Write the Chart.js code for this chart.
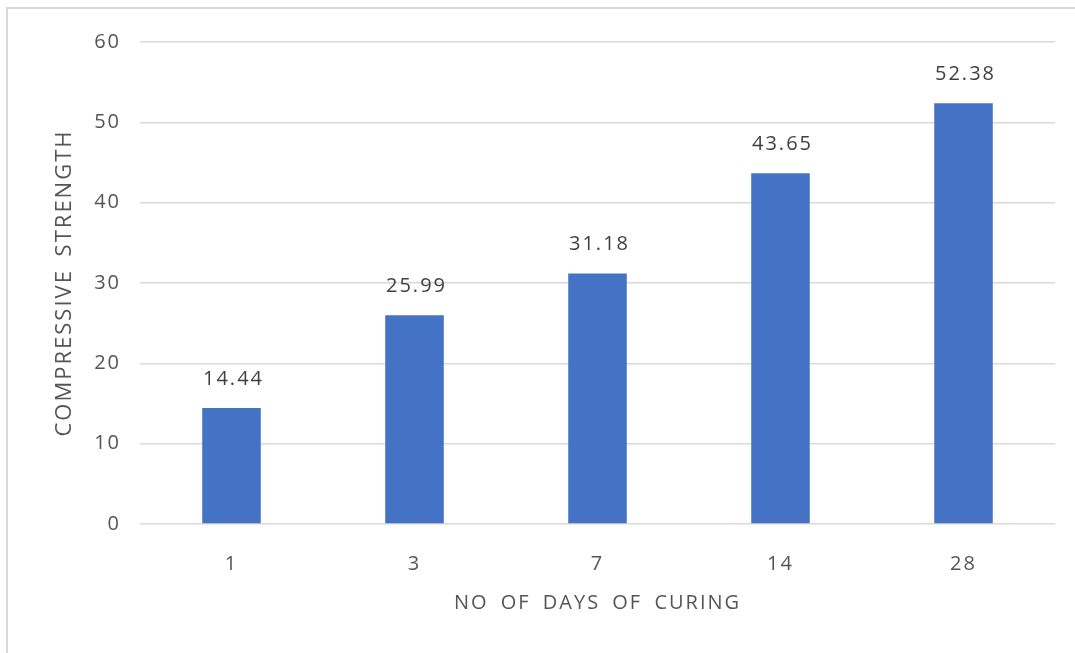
<!DOCTYPE html>
<html>
<head>
<meta charset="utf-8">
<script src="https://cdn.jsdelivr.net/npm/chart.js@4"></script>
<style>
  html, body { margin: 0; padding: 0; background: #fff; }
  #wrap { position: relative; width: 1075px; height: 653px; overflow: hidden; }
  #frame {
    position: absolute; left: 6px; top: 7px; width: 1080px; height: 660px;
    border-left: 2px solid #d9d9d9; border-top: 2px solid #d9d9d9;
    pointer-events: none;
  }
  #chart { position: absolute; left: 0; top: 0; }
</style>
</head>
<body>
<div id="wrap">
  <canvas id="chart" width="1075" height="653"></canvas>
  <div id="frame"></div>
</div>
<script>
const days = ['1', '3', '7', '14', '28'];
const strength = [14.44, 25.99, 31.18, 43.65, 52.38];
const yTicks = [0, 10, 20, 30, 40, 50, 60];

const TEXT = '#555555';
const FONT = { family: "'Open Sans', sans-serif", size: 20 };

// Excel-style spaced text
const spacing = {
  id: 'spacing',
  beforeLayout(chart) { chart.ctx.letterSpacing = '2px'; chart.ctx.wordSpacing = '5px'; },
  beforeDraw(chart) { chart.ctx.letterSpacing = '2px'; chart.ctx.wordSpacing = '5px'; }
};

// value printed over each bar
const barLabels = {
  id: 'barLabels',
  afterDatasetsDraw(chart) {
    const ctx = chart.ctx;
    const meta = chart.getDatasetMeta(0);
    ctx.save();
    ctx.font = "20px 'Open Sans', sans-serif";
    ctx.fillStyle = '#404040';
    ctx.textAlign = 'center';
    ctx.textBaseline = 'middle';
    meta.data.forEach((bar, i) => {
      ctx.fillText(strength[i].toFixed(2), bar.x + 2, bar.y - 29);
    });
    ctx.restore();
  }
};

new Chart(document.getElementById('chart'), {
  type: 'bar',
  data: {
    labels: days,
    datasets: [{
      data: strength,
      backgroundColor: '#4472C4',
      barPercentage: 0.32,
      categoryPercentage: 1
    }]
  },
  options: {
    responsive: false,
    animation: false,
    layout: { padding: { top: 42, right: 20, left: 0, bottom: 0 } },
    plugins: { legend: { display: false }, tooltip: { enabled: false } },
    scales: {
      x: {
        grid: { display: false },
        border: { display: false },
        ticks: { color: TEXT, font: FONT, padding: 20 },
        title: {
          display: true, text: 'NO OF DAYS OF CURING', color: TEXT, font: FONT,
          padding: { top: 0, bottom: 38 }
        },
        afterFit(scale) { scale.height = 129; }
      },
      y: {
        min: 0, max: 60,
        afterBuildTicks(scale) { scale.ticks = yTicks.map(v => ({ value: v })); },
        grid: { color: '#d9d9d9', lineWidth: 1.5, drawTicks: false },
        border: { display: false },
        ticks: { color: TEXT, font: FONT, padding: 19 },
        title: {
          display: true, text: 'COMPRESSIVE STRENGTH', color: TEXT,
          font: { family: FONT.family, size: 22 },
          padding: { top: 52, bottom: 0 }
        },
        afterFit(scale) { scale.width = 140; }
      }
    }
  },
  plugins: [spacing, barLabels]
});
</script>
</body>
</html>
